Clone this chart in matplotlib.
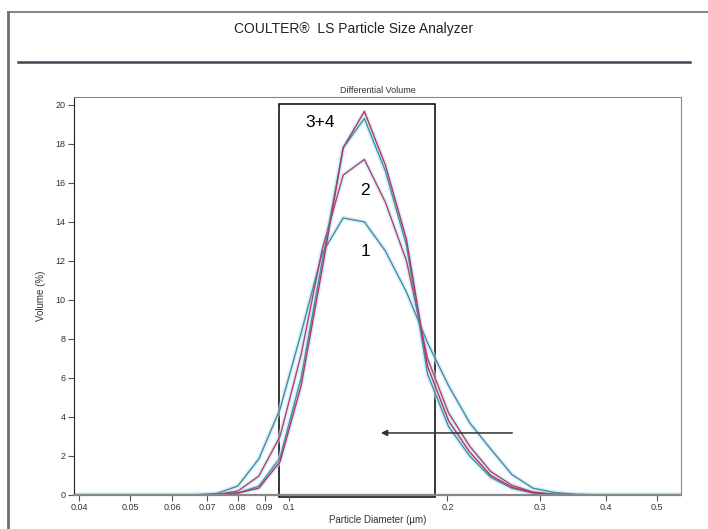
import numpy as np
import matplotlib
matplotlib.use("Agg")
from matplotlib import pyplot as plt
from matplotlib.patches import Rectangle

plt.rcParams['font.family'] = ['Liberation Sans', 'DejaVu Sans']

# particle diameter bins (um)
diameters = [0.0383, 0.0420, 0.0460, 0.0505, 0.0553, 0.0607, 0.0665, 0.0730,
             0.0800, 0.0877, 0.0962, 0.1055, 0.1157, 0.1268, 0.1391, 0.1525,
             0.1672, 0.1833, 0.2010, 0.2204, 0.2417, 0.2650, 0.2906, 0.3187,
             0.3494, 0.3831, 0.4201, 0.4606, 0.5051, 0.5538]

vol_1 = [0, 0, 0, 0, 0, 0, 0.01, 0.08, 0.46, 1.85, 4.4, 8.3, 12.4, 14.2, 14.0,
         12.5, 10.4, 7.8, 5.6, 3.7, 2.35, 1.05, 0.35, 0.13, 0.04, 0.01, 0, 0, 0, 0]
vol_2 = [0, 0, 0, 0, 0, 0, 0, 0.03, 0.2, 0.97, 3.0, 7.2, 12.6, 16.4, 17.2,
         15.0, 12.0, 7.0, 4.2, 2.5, 1.2, 0.5, 0.15, 0.04, 0.01, 0, 0, 0, 0, 0]
vol_3 = [0, 0, 0, 0, 0, 0, 0, 0.02, 0.1, 0.35, 1.7, 5.6, 11.6, 17.8, 19.66,
         16.9, 13.1, 6.6, 3.8, 2.2, 1.0, 0.4, 0.12, 0.03, 0, 0, 0, 0, 0, 0]
vol_4 = [0, 0, 0, 0, 0, 0, 0, 0.02, 0.1, 0.45, 1.9, 6.0, 12.0, 17.8, 19.3,
         16.6, 12.8, 6.2, 3.5, 2.0, 0.9, 0.35, 0.1, 0.02, 0, 0, 0, 0, 0, 0]

xticks = [0.04, 0.05, 0.06, 0.07, 0.08, 0.09, 0.1, 0.2, 0.3, 0.4, 0.5]
xtick_labels = ["0.04", "0.05", "0.06", "0.07", "0.08", "0.09", "0.1", "0.2", "0.3", "0.4", "0.5"]
yticks = [0, 2, 4, 6, 8, 10, 12, 14, 16, 18, 20]

fig = plt.figure(figsize=(7.08, 5.29), dpi=100)
fig.patch.set_facecolor("white")

# page decorations
fig.add_artist(plt.Line2D([0.012, 0.012], [0, 0.978], color="#707070", lw=2))
fig.add_artist(plt.Line2D([0.012, 1.0], [0.978, 0.978], color="#707070", lw=1.2))
fig.add_artist(plt.Line2D([0.026, 0.975], [0.883, 0.883], color="#444455", lw=1.8))
fig.text(0.5, 0.945, "COULTER\u00ae  LS Particle Size Analyzer", ha="center", va="center",
         fontsize=10, color="#222222")

ax = fig.add_axes([0.1045, 0.0643, 0.8574, 0.7523])
ax.set_xscale("log")

series = [(vol_1, "#4a8aa4"), (vol_2, "#b8406e"), (vol_4, "#3a94aa"), (vol_3, "#c0305e")]
for vals, col in series:
    ax.plot(diameters, vals, color="#bfe8f6", lw=3.2, alpha=0.6, solid_joinstyle="round")
for vals, col in series:
    ax.plot(diameters, vals, color=col, lw=1.0)

ax.set_xlim(0.0391, 0.555)
ax.set_ylim(0, 20.4)
ax.xaxis.set_minor_locator(matplotlib.ticker.NullLocator())
ax.set_xticks(xticks)
ax.set_xticklabels(xtick_labels)
ax.set_yticks(yticks)
ax.tick_params(axis="both", labelsize=6.5, labelcolor="#333333", length=4, width=0.8,
               color="#555555", pad=2)

for side in ["top", "right", "bottom"]:
    ax.spines[side].set_color("#888888")
ax.spines["bottom"].set_linewidth(1.6)
ax.spines["left"].set_color("#222222")

ax.set_title("Differential Volume", fontsize=6.5, color="#333333", pad=3)
ax.set_xlabel("Particle Diameter (\u00b5m)", fontsize=7, color="#333333", labelpad=2)
ax.set_ylabel("Volume (%)", fontsize=7, color="#333333", labelpad=7)

# highlight box and arrow
ax.add_patch(Rectangle((0.0958, -0.1), 0.1895 - 0.0958, 20.15, fill=False,
                       edgecolor="black", lw=1.1, clip_on=False))
ax.annotate("", xy=(0.1477, 3.18), xytext=(0.2687, 3.18),
            arrowprops=dict(arrowstyle="-|>", color="#333333", lw=1.1, mutation_scale=9))

ax.text(0.1146, 19.1, "3+4", fontsize=12.5, ha="center", va="center", color="black")
ax.text(0.1395, 15.6, "2", fontsize=12.5, ha="center", va="center", color="black")
ax.text(0.1395, 12.46, "1", fontsize=12.5, ha="center", va="center", color="black")

fig.savefig("out.png", dpi=100, facecolor="white")
